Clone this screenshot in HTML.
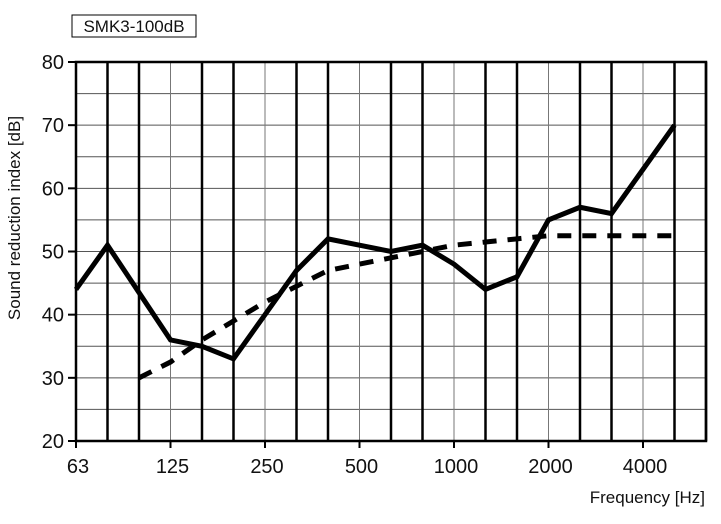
<!DOCTYPE html>
<html><head><meta charset="utf-8"><style>
body{margin:0;background:#fff;}
svg text{font-family:"Liberation Sans",Arial,sans-serif;fill:#111;}
</style></head><body>
<svg id="chart" width="721" height="519" xmlns="http://www.w3.org/2000/svg">
<rect x="72" y="15" width="124" height="22" fill="#fff" stroke="#000" stroke-width="1"/>
<text x="134" y="32" font-size="17" text-anchor="middle">SMK3-100dB</text>
<text transform="translate(20,218) rotate(-90)" font-size="17" text-anchor="middle">Sound reduction index [dB]</text>
<text x="705" y="503" font-size="17" text-anchor="end">Frequency [Hz]</text>
<g id="grid"></g><g id="series"></g><g id="axes"></g>
</svg>
<script>
const bands = ["63","80","100","125","160","200","250","315","400","500","630","800","1000","1250","1600","2000","2500","3150","4000","5000"];
const measured = [44,51,43.5,36,35,33,40,47,52,51,50,51,48,44,46,55,57,56,63,70];
const reference = [null,null,30,32.5,36,39,42,44.5,47,48,49,50,51,51.5,52,52.5,52.5,52.5,52.5,52.5];
const yTicks = [20,30,40,50,60,70,80];
const xLabels = ["63","125","250","500","1000","2000","4000"];
const NS="http://www.w3.org/2000/svg";
const L=76,R=706,T=62,B=441,step=31.5;
const xs=i=>L+i*step;
const ys=v=>B-(v-20)/60*(B-T);
function mk(tag,attrs,parent){const e=document.createElementNS(NS,tag);for(const k in attrs)e.setAttribute(k,attrs[k]);parent.appendChild(e);return e;}
const grid=document.getElementById('grid'),ser=document.getElementById('series'),ax=document.getElementById('axes');
for(let v=20;v<=80;v+=5){const l=mk('line',{x1:L,x2:R,y1:ys(v),y2:ys(v),stroke:'#555','stroke-width':1},grid);

}
for(let i=1;i<=20;i++){const octave=xLabels.includes(bands[i]);const l=mk('line',{x1:xs(i),x2:xs(i),y1:T,y2:B,stroke:octave?'#777':'#000','stroke-width':octave?1:2.5},grid);

}
function path(arr){let d='';arr.forEach((v,i)=>{if(v==null)return;d+=(d?'L':'M')+xs(i)+','+ys(v);});return d;}
const p1=mk('path',{d:path(measured),fill:'none',stroke:'#000','stroke-width':5,'stroke-linejoin':'miter'},ser);


const p2=mk('path',{d:path(reference),fill:'none',stroke:'#000','stroke-width':5,'stroke-dasharray':'14,11'},ser);


const fr=mk('path',{d:`M${L},${T}H${R}V${B}H${L}Z`,fill:'none',stroke:'#000','stroke-width':2.5},ax);


yTicks.forEach(v=>{const tk=mk('line',{x1:L-8,x2:L,y1:ys(v),y2:ys(v),stroke:'#000','stroke-width':2},ax);


const t=mk('text',{x:L-12,y:ys(v)+7,'font-size':20,'text-anchor':'end'},ax);t.textContent=v;

});
xLabels.forEach(lb=>{const i=bands.indexOf(lb);const tk=mk('line',{x1:xs(i),x2:xs(i),y1:B,y2:B+7,stroke:'#000','stroke-width':2},ax);


const t=mk('text',{x:xs(i)+2,y:B+32,'font-size':20,'text-anchor':'middle'},ax);t.textContent=lb;

});
</script>
</body></html>
